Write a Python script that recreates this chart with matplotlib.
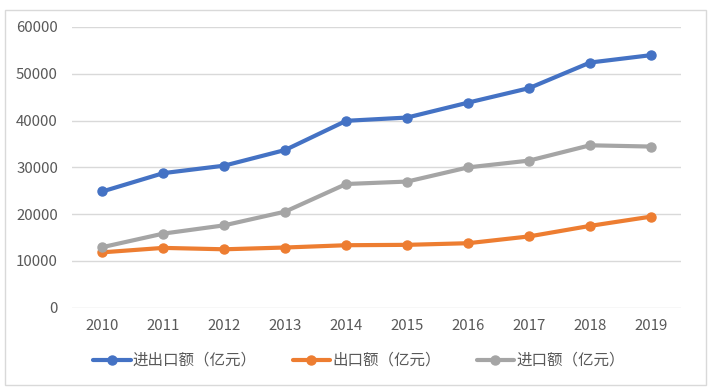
import matplotlib
matplotlib.use("Agg")
import matplotlib.pyplot as plt
from matplotlib.patches import Rectangle

plt.rcParams['font.family'] = ['Noto Sans CJK SC', 'DejaVu Sans']

years = ['2010', '2011', '2012', '2013', '2014', '2015', '2016', '2017', '2018', '2019']
total = [24850, 28770, 30370, 33720, 39950, 40650, 43840, 46930, 52400, 53980]
exports = [11850, 12800, 12500, 12880, 13370, 13450, 13800, 15250, 17500, 19480]
imports = [12950, 15850, 17620, 20550, 26450, 26970, 30000, 31450, 34720, 34450]
labels = ['进出口额（亿元）', '出口额（亿元）', '进口额（亿元）']
colors = ['#4472C4', '#ED7D31', '#A5A5A5']
yticks = [0, 10000, 20000, 30000, 40000, 50000, 60000]

fig = plt.figure(figsize=(7.11, 3.91), dpi=100)
fig.patches.append(Rectangle((0.007, 0.015), 0.986, 0.96, transform=fig.transFigure,
                             fill=False, edgecolor='#D9D9D9', linewidth=1.0))
ax = fig.add_axes([0.101, 0.2128, 0.8575, 0.7182])

x = list(range(len(years)))
for series, lab, col in zip([total, exports, imports], labels, colors):
    ax.plot(x, series, color=col, linewidth=3, marker='o', markersize=6.5,
            label=lab, solid_capstyle='round', zorder=3)

ax.set_xlim(-0.5, len(years) - 0.5)
ax.set_ylim(0, 60000)
ax.set_yticks(yticks)
ax.set_yticklabels([str(v) for v in yticks])
ax.set_xticks(x)
ax.set_xticklabels(years)
ax.grid(axis='y', color='#D9D9D9', linewidth=1.0, zorder=0)
for s in ax.spines.values():
    s.set_visible(False)
ax.tick_params(axis='both', length=0, colors='#595959', labelsize=10.8)
ax.tick_params(axis='y', pad=10)
ax.tick_params(axis='x', pad=8)

fig.legend(loc='center', bbox_to_anchor=(0.505, 0.078), ncol=3, frameon=False,
           fontsize=11.2, labelcolor='#595959', handlelength=2.4,
           columnspacing=2.3, handletextpad=0.15)

fig.savefig('out.png', dpi=100)
